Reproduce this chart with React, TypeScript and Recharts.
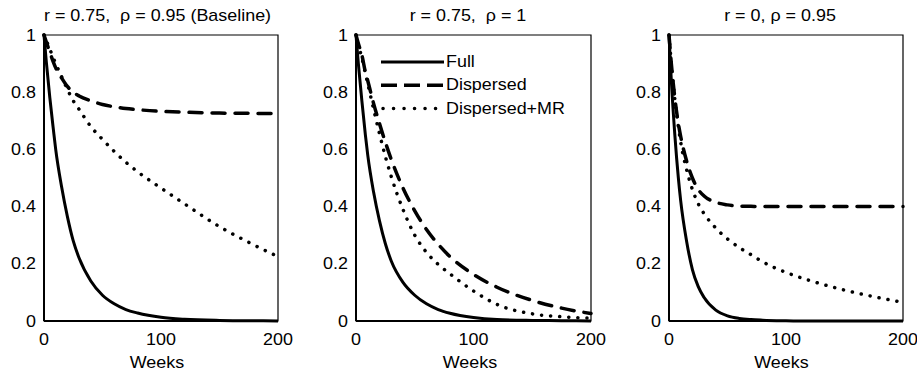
import React from 'react';
import { LineChart, Line, XAxis, YAxis, ReferenceArea, Legend } from 'recharts';

// ---------- data ----------
const WEEKS = [0, 2, 5, 8, 10, 15, 20, 25, 30, 40, 50, 60, 70, 80, 100, 120, 150, 175, 200];

const P1_FULL = [1, 0.905, 0.78, 0.67, 0.6, 0.47, 0.365, 0.28, 0.22, 0.14, 0.09, 0.06, 0.04, 0.028, 0.013, 0.006, 0.002, 0.001, 0];
const P1_DISP = [1, 0.975, 0.94, 0.905, 0.885, 0.85, 0.82, 0.8, 0.787, 0.77, 0.757, 0.749, 0.743, 0.739, 0.733, 0.73, 0.727, 0.726, 0.725];
const P1_MR = [1, 0.98, 0.95, 0.92, 0.9, 0.855, 0.81, 0.77, 0.74, 0.68, 0.635, 0.593, 0.555, 0.522, 0.465, 0.41, 0.33, 0.275, 0.225];

const P2_FULL = [1, 0.9, 0.77, 0.65, 0.58, 0.45, 0.35, 0.27, 0.21, 0.135, 0.09, 0.06, 0.04, 0.027, 0.012, 0.005, 0.002, 0.001, 0];
const P2_DISP = [1, 0.97, 0.93, 0.87, 0.84, 0.76, 0.69, 0.625, 0.565, 0.465, 0.385, 0.32, 0.268, 0.225, 0.163, 0.118, 0.072, 0.045, 0.026];
const P2_MR = [1, 0.965, 0.92, 0.865, 0.83, 0.74, 0.655, 0.575, 0.505, 0.39, 0.3, 0.24, 0.198, 0.165, 0.105, 0.058, 0.025, 0.015, 0.01];

const P3_FULL = [1, 0.84, 0.65, 0.5, 0.42, 0.28, 0.18, 0.12, 0.082, 0.038, 0.018, 0.009, 0.005, 0.003, 0.001, 0, 0, 0, 0];
const P3_DISP = [1, 0.9, 0.78, 0.69, 0.645, 0.56, 0.5, 0.46, 0.437, 0.415, 0.406, 0.402, 0.401, 0.4, 0.4, 0.4, 0.4, 0.4, 0.4];
const P3_MR = [1, 0.9, 0.775, 0.68, 0.625, 0.53, 0.46, 0.41, 0.375, 0.325, 0.287, 0.257, 0.232, 0.207, 0.17, 0.142, 0.108, 0.085, 0.065];

const TITLES = ['r = 0.75,  \u03C1 = 0.95 (Baseline)', 'r = 0.75,  \u03C1 = 1', 'r = 0, \u03C1 = 0.95'];
const SERIES_NAMES = ['Full', 'Dispersed', 'Dispersed+MR'];
const X_LABEL = 'Weeks';
const X_TICKS = [0, 100, 200];
const Y_TICKS = [0, 0.2, 0.4, 0.6, 0.8, 1];

const buildRows = (full: number[], disp: number[], mr: number[]) =>
  WEEKS.map((w, i) => ({ week: w, full: full[i], dispersed: disp[i], mr: mr[i] }));

// ---------- styles ----------
const FONT = '"Liberation Sans", Arial, Helvetica, sans-serif';
const FS = 16;
const SX = 1.12;
const DASH = '13 10';
const DOT = '0.1 9';

const StretchTick = (props: any) => {
  const { x, y, payload, anchor, dy } = props;
  return (
    <g transform={`translate(${x},${y}) scale(${SX},1)`}>
      <text x={0} y={0} dy={dy} textAnchor={anchor} fontFamily={FONT} fontSize={FS} fill="#000">
        {String(payload.value)}
      </text>
    </g>
  );
};

const LegendContent = () => {
  const rowY = [12, 35.3, 58.6];
  const dashes = ['', '16 7', '0.1 10.4'];
  const widths = [3, 3.5, 3.5];
  return (
    <svg width={200} height={72} style={{ overflow: 'visible', display: 'block' }}>
      {SERIES_NAMES.map((n, i) => (
        <g key={n}>
          <line
            x1={i === 2 ? 2 : 0}
            x2={i === 2 ? 56 : 63}
            y1={rowY[i]}
            y2={rowY[i]}
            stroke="#000"
            strokeWidth={widths[i]}
            strokeDasharray={dashes[i] || undefined}
            strokeLinecap={i === 2 ? 'round' : 'butt'}
          />
          <text
            transform={`translate(65,${rowY[i] + 5}) scale(${SX},1)`}
            fontFamily={FONT}
            fontSize={FS}
            fill="#000"
          >
            {n}
          </text>
        </g>
      ))}
    </svg>
  );
};

type PanelProps = { rows: any[]; left: number; width: number; marginRight: number; legend?: boolean };

const Panel = ({ rows, left, width, marginRight, legend }: PanelProps) => (
  <div style={{ position: 'absolute', left, top: 0 }}>
    <LineChart width={width} height={373} data={rows} margin={{ top: 35, right: marginRight, left: 0, bottom: 0 }}>
      <XAxis
        dataKey="week"
        type="number"
        domain={[0, 200]}
        ticks={X_TICKS}
        interval={0}
        tickLine={false}
        axisLine={{ stroke: '#000', strokeWidth: 2 }}
        height={52}
        tickSize={6}
        tickMargin={7}
        tick={(p: any) => <StretchTick {...p} anchor="middle" dy="0.71em" />}
      />
      <YAxis
        type="number"
        domain={[0, 1]}
        ticks={Y_TICKS}
        interval={0}
        tickLine={false}
        axisLine={{ stroke: '#000', strokeWidth: 2 }}
        width={44}
        tickSize={6}
        tickMargin={2}
        tick={(p: any) => <StretchTick {...p} anchor="end" dy="0.35em" />}
      />
      <ReferenceArea x1={0} x2={200} y1={0} y2={1} fill="none" stroke="#000" strokeWidth={1.2} strokeOpacity={1} fillOpacity={0} />
      <Line dataKey="mr" name={SERIES_NAMES[2]} type="monotone" stroke="#000" strokeWidth={3.5} strokeDasharray={DOT} strokeLinecap="round" dot={false} activeDot={false} isAnimationActive={false} />
      <Line dataKey="dispersed" name={SERIES_NAMES[1]} type="monotone" stroke="#000" strokeWidth={3.5} strokeDasharray={DASH} strokeLinecap="round" dot={false} activeDot={false} isAnimationActive={false} />
      <Line dataKey="full" name={SERIES_NAMES[0]} type="monotone" stroke="#000" strokeWidth={3} dot={false} activeDot={false} isAnimationActive={false} />
      {legend && (
        <Legend
          layout="vertical"
          align="center"
          verticalAlign="middle"
          content={() => <LegendContent />}
          wrapperStyle={{ left: 69, top: 50, width: 200, height: 72 }}
        />
      )}
    </LineChart>
  </div>
);

const TITLE_X = [157.5, 468, 780];
const XLABEL_X = [157, 470, 781.5];

export default function App() {
  return (
    <div style={{ position: 'absolute', left: 0, top: 0, width: 917, height: 373, background: '#fff', overflow: 'hidden' }}>
      <Panel rows={buildRows(P1_FULL, P1_DISP, P1_MR)} left={0} width={308} marginRight={30} />
      <Panel rows={buildRows(P2_FULL, P2_DISP, P2_MR)} left={312} width={309} marginRight={30} legend />
      <Panel rows={buildRows(P3_FULL, P3_DISP, P3_MR)} left={625} width={292} marginRight={14} />
      <svg width={917} height={373} style={{ position: 'absolute', left: 0, top: 0, pointerEvents: 'none' }}>
        {TITLES.map((t, i) => (
          <text
            key={t}
            transform={`translate(${TITLE_X[i]},20.5) scale(${SX},1)`}
            textAnchor="middle"
            fontFamily={FONT}
            fontSize={FS}
            fill="#000"
            style={{ whiteSpace: 'pre' }}
          >
            {t}
          </text>
        ))}
        {XLABEL_X.map((x, i) => (
          <text
            key={i}
            transform={`translate(${x},368) scale(${SX},1)`}
            textAnchor="middle"
            fontFamily={FONT}
            fontSize={FS}
            fill="#000"
          >
            {X_LABEL}
          </text>
        ))}
      </svg>
    </div>
  );
}
